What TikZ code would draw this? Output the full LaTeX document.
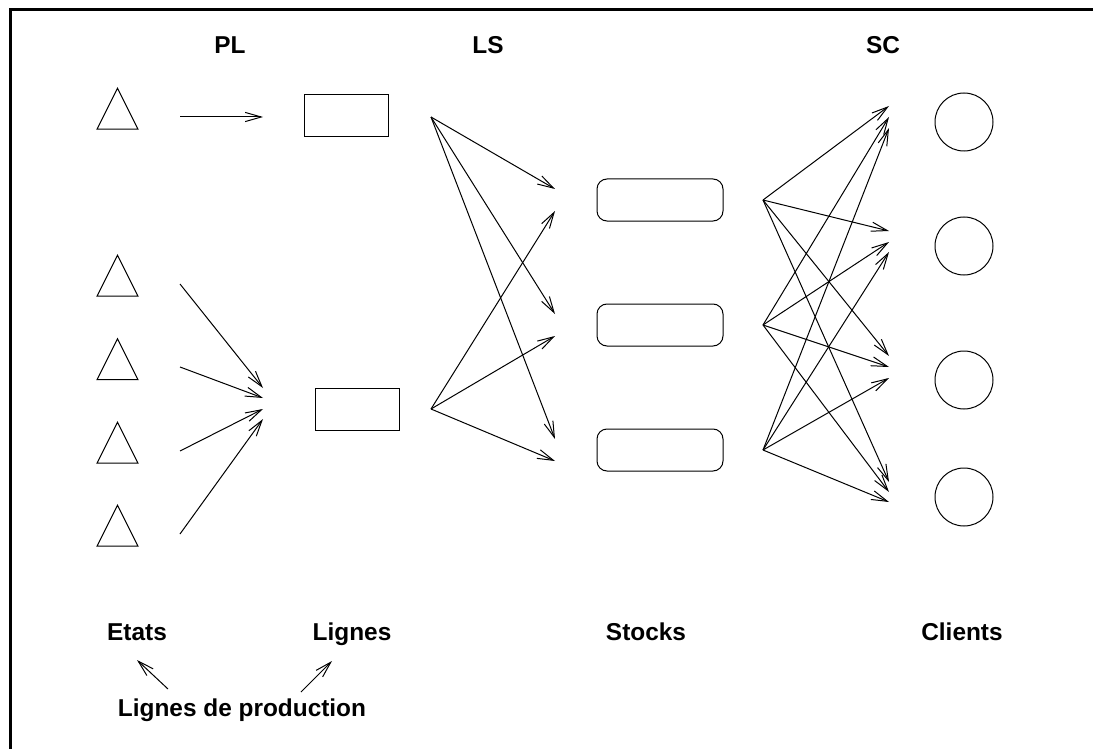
\documentclass[tikz,border=0pt]{standalone}
\usepackage{fontspec}
\setmainfont{Liberation Sans}
\usetikzlibrary{arrows.meta, shapes.geometric}

\begin{document}
\begin{tikzpicture}[x=0.5pt, y=-0.5pt,
    line width=0.5pt,
    >={Straight Barb[length=8pt,width=4.6pt]},
    etat/.style={
      isosceles triangle,
      isosceles triangle stretches,
      shape border rotate=90,
      draw,
      minimum width=20.5pt,
      minimum height=20.5pt,
      inner sep=0pt
    },
    ligne/.style={rectangle, draw, minimum width=42pt, minimum height=21pt, inner sep=0pt},
    stock/.style={rectangle, rounded corners=5pt, draw, minimum width=63pt, minimum height=21pt, inner sep=0pt},
    client/.style={circle, draw, minimum size=29pt, inner sep=0pt},
    titre/.style={font=\bfseries\fontsize{12.2}{14}\selectfont, inner sep=0pt, anchor=base}]

    \useasboundingbox (0,0) rectangle (1093,749);
    \draw[line width=1.5pt] (10,749) -- (10,10) -- (1093,10);

    % column titles
    \node[titre] (PL) at (230,54) {PL};
    \node[titre] (LS) at (488,54) {LS};
    \node[titre] (SC) at (883,54) {SC};

    % etats, lignes, stocks, clients
    \node[etat] (t1) at (117.5,116.5) {};
    \node[etat] (t2) at (117.5,283.5) {};
    \node[etat] (t3) at (117.5,367) {};
    \node[etat] (t4) at (117.5,450.5) {};
    \node[etat] (t5) at (117.5,533.5) {};

    \node[ligne] (r1) at (346,116) {};
    \node[ligne] (r2) at (357,409) {};

    \node[stock] (s1) at (660,200) {};
    \node[stock] (s2) at (660,325) {};
    \node[stock] (s3) at (660,450) {};

    \node[client] (c1) at (964,122) {};
    \node[client] (c2) at (964,246) {};
    \node[client] (c3) at (964,380) {};
    \node[client] (c4) at (964,497) {};

    % arrow ends
    \coordinate (t1o) at (180,117);
    \coordinate (t2o) at (180,284);
    \coordinate (t3o) at (180,367);
    \coordinate (t4o) at (180,451);
    \coordinate (t5o) at (180,534);
    \coordinate (r1i) at (263,117);
    \coordinate (r2a) at (263,388);
    \coordinate (r2b) at (263,398);
    \coordinate (r2c) at (263,409);
    \coordinate (r2d) at (263,419);
    \coordinate (r1o) at (431,117);
    \coordinate (r2o) at (431,409);
    \coordinate (s1a) at (555,189);
    \coordinate (s1b) at (555,211);
    \coordinate (s2a) at (555,314);
    \coordinate (s2b) at (555,336);
    \coordinate (s3a) at (555,439);
    \coordinate (s3b) at (555,461);
    \coordinate (s1o) at (763,200);
    \coordinate (s2o) at (763,325);
    \coordinate (s3o) at (763,450);
    \coordinate (c1a) at (889,106);
    \coordinate (c1b) at (889,117);
    \coordinate (c1c) at (889,128);
    \coordinate (c2a) at (889,231);
    \coordinate (c2b) at (889,242);
    \coordinate (c2c) at (889,252);
    \coordinate (c3a) at (889,356);
    \coordinate (c3b) at (889,367);
    \coordinate (c3c) at (889,378);
    \coordinate (c4a) at (889,482);
    \coordinate (c4b) at (889,492);
    \coordinate (c4c) at (889,502);

    % PL
    \draw[->] (t1o) -- (r1i);
    \draw[->] (t2o) -- (r2a);
    \draw[->] (t3o) -- (r2b);
    \draw[->] (t4o) -- (r2c);
    \draw[->] (t5o) -- (r2d);

    % LS
    \draw[->] (r1o) -- (s1a);
    \draw[->] (r1o) -- (s2a);
    \draw[->] (r1o) -- (s3a);
    \draw[->] (r2o) -- (s1b);
    \draw[->] (r2o) -- (s2b);
    \draw[->] (r2o) -- (s3b);

    % SC
    \draw[->] (s1o) -- (c1a);
    \draw[->] (s1o) -- (c2a);
    \draw[->] (s1o) -- (c3a);
    \draw[->] (s1o) -- (c4a);
    \draw[->] (s2o) -- (c1b);
    \draw[->] (s2o) -- (c2b);
    \draw[->] (s2o) -- (c3b);
    \draw[->] (s2o) -- (c4b);
    \draw[->] (s3o) -- (c1c);
    \draw[->] (s3o) -- (c2c);
    \draw[->] (s3o) -- (c3c);
    \draw[->] (s3o) -- (c4c);

    % legend
    \node[titre] (etats) at (137,640) {Etats};
    \node[titre] (lignes) at (352,640) {Lignes};
    \node[titre] (stocks) at (646,640) {Stocks};
    \node[titre] (clients) at (962,640) {Clients};
    \node[titre] (prod) at (242,716) {Lignes de production};
    \coordinate (p1) at (168,689);
    \coordinate (e1) at (137,660);
    \coordinate (p2) at (301,692);
    \coordinate (l1) at (332,661);
    \draw[->] (p1) -- (e1);
    \draw[->] (p2) -- (l1);
  \end{tikzpicture}
\end{document}
